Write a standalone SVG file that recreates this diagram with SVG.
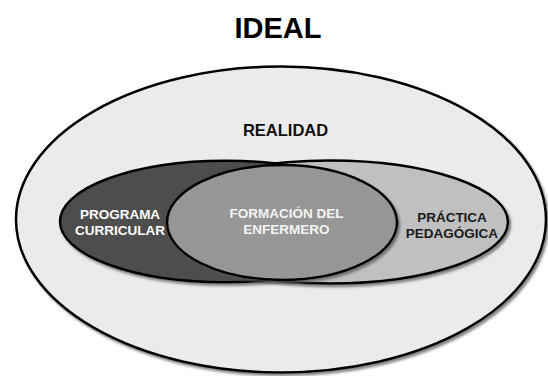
<svg xmlns="http://www.w3.org/2000/svg" width="548" height="376" viewBox="0 0 548 376">
<defs>
<filter id="sh" x="-5%" y="-5%" width="110%" height="115%">
<feDropShadow dx="2" dy="2.5" stdDeviation="1" flood-color="#555" flood-opacity="0.7"/>
</filter>
</defs>
<style>
.e{stroke:#000;stroke-width:2.5;filter:url(#sh)}
.t{font-family:"Liberation Sans",Arial,sans-serif;font-weight:bold;text-anchor:middle}
.l{font-size:13.5px}
</style>
<rect width="548" height="376" fill="#fff"/>
<g id="title"><text class="t" x="278" y="38" font-size="29" fill="#000">IDEAL</text></g>
<g id="realidad">
<ellipse class="e" cx="281" cy="219.5" rx="265" ry="153" fill="#ebebeb"/>
<text class="t" x="285.5" y="136" font-size="16.5" fill="#111">REALIDAD</text>
</g>
<g id="practica">
<ellipse class="e" cx="330" cy="222" rx="178" ry="61.5" fill="#c0c0c0"/>
</g>
<g id="programa">
<ellipse class="e" cx="225" cy="221.5" rx="165" ry="60.8" fill="#4d4d4d"/>
</g>
<g id="formacion">
<ellipse class="e" cx="282" cy="222.5" rx="115" ry="57.5" fill="#969696"/>
<text class="t l" x="286.5" y="218.3" fill="#f4f4f4">FORMACIÓN DEL</text>
<text class="t l" x="286.5" y="233.5" fill="#f4f4f4">ENFERMERO</text>
</g>
<g id="labels">
<text class="t l" x="120" y="219" fill="#fff">PROGRAMA</text>
<text class="t l" x="120" y="235" fill="#fff">CURRICULAR</text>
<text class="t l" x="452" y="222" fill="#1a1a1a">PRÁCTICA</text>
<text class="t l" x="452" y="237.5" fill="#1a1a1a">PEDAGÓGICA</text>
</g>
<g id="connectors"></g>
</svg>
